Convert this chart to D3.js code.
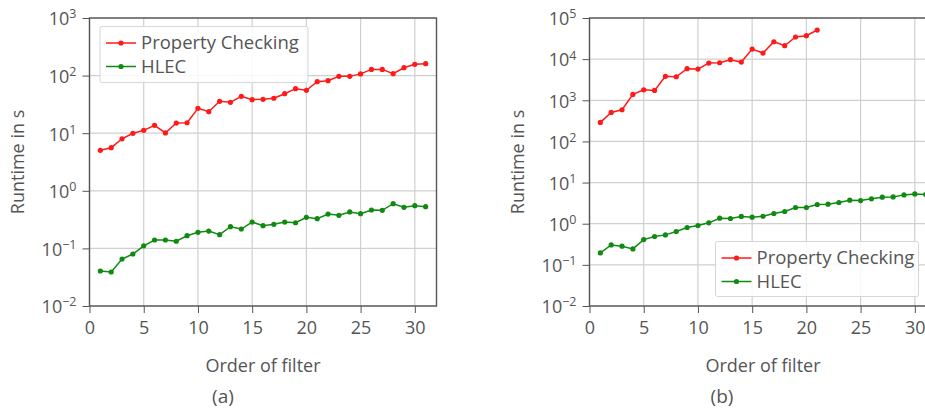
<!DOCTYPE html>
<html>
<head>
<meta charset="utf-8">
<script src="https://cdn.jsdelivr.net/npm/d3@7"></script>
<style>
    html, body { margin: 0; padding: 0; background: #fff; overflow: hidden; }
    text { font-family: "Open Sans", "DejaVu Sans", sans-serif; fill: #555; }
    .grid line { stroke: #cfcfcf; stroke-width: 1.2; }
    .axis path, .axis line { stroke: #555; }
    .axis text { font-size: 18px; fill: #555; }
</style>
</head>
<body>
<div id="vis"></div>
<script>
// Order of filter values
var ordersAll = [1, 2, 3, 4, 5, 6, 7, 8, 9, 10, 11, 12, 13, 14, 15, 16, 17, 18, 19, 20, 21, 22, 23, 24, 25, 26, 27, 28, 29, 30, 31];
var ordersB = [1, 2, 3, 4, 5, 6, 7, 8, 9, 10, 11, 12, 13, 14, 15, 16, 17, 18, 19, 20, 21];

// (a) runtimes in s
var propA = [5.05, 5.6, 8.0, 9.95, 11.2, 13.7, 10.1, 15.0, 15.2, 27, 23.6, 35.8, 34.4, 43.7, 38.2, 38.8, 40.4, 48.5, 59.3, 55.6, 78.3, 81.5, 97, 97, 107, 128, 128, 108, 137, 157, 161];
var hlecA = [0.0405, 0.0389, 0.0655, 0.080, 0.111, 0.14, 0.14, 0.133, 0.166, 0.19, 0.20, 0.173, 0.238, 0.217, 0.287, 0.248, 0.262, 0.287, 0.279, 0.347, 0.328, 0.395, 0.375, 0.429, 0.40, 0.464, 0.458, 0.597, 0.517, 0.551, 0.53];

// (b) runtimes in s
var propB = [290, 507, 588, 1390, 1800, 1740, 3820, 3730, 5850, 5740, 8030, 8180, 9680, 8500, 17600, 14070, 26500, 21200, 34500, 37100, 51000];
var hlecB = [0.195, 0.305, 0.284, 0.244, 0.412, 0.489, 0.535, 0.646, 0.81, 0.904, 1.05, 1.36, 1.34, 1.5, 1.44, 1.52, 1.77, 1.98, 2.48, 2.48, 2.93, 2.98, 3.28, 3.73, 3.66, 4.02, 4.42, 4.49, 5.02, 5.31, 5.13];

// Tick values
var xTicks = [0, 5, 10, 15, 20, 25, 30];
var expA = [-2, -1, 0, 1, 2, 3];
var expB = [-2, -1, 0, 1, 2, 3, 4, 5];

var seriesNames = ['Property Checking', 'HLEC'];
var colors = ['#ff1a1a', '#118a11'];

var width = 925;
var height = 408;

var svg = d3.select('#vis')
    .append('svg')
    .attr('width', width)
    .attr('height', height);

var zip = function(xs, ys) {
    return ys.map(function(v, i) { return {x: xs[i], y: v}; });
};

var panels = [
    {
        left: 89.5, top: 18, w: 347, h: 288,
        exps: expA, caption: '(a)', captionX: 223,
        series: [zip(ordersAll, propA), zip(ordersAll, hlecA)],
        legend: {x: 100, y: 26.5, w: 208, h: 56}
    },
    {
        left: 589.5, top: 18, w: 347, h: 288,
        exps: expB, caption: '(b)', captionX: 722,
        series: [zip(ordersB, propB), zip(ordersAll, hlecB)],
        legend: {x: 715.5, y: 241.5, w: 203, h: 55}
    }
];

var supMinus = function(e) {
    return (e < 0 ? '\u2212' : '') + Math.abs(e);
};

panels.forEach(function(p) {
    var g = svg.append('g')
        .attr('transform', 'translate(' + p.left + ',' + p.top + ')');

    var xScale = d3.scaleLinear().domain([0, 32]).range([0, p.w]);
    var yScale = d3.scaleLog()
        .domain([Math.pow(10, p.exps[0]), Math.pow(10, p.exps[p.exps.length - 1])])
        .range([p.h, 0]);
    var yTickVals = p.exps.map(function(e) { return Math.pow(10, e); });

    // grid
    var grid = g.append('g').attr('class', 'grid');
    grid.selectAll('.gx').data(xTicks).enter().append('line')
        .attr('x1', function(d) { return xScale(d); })
        .attr('x2', function(d) { return xScale(d); })
        .attr('y1', 0).attr('y2', p.h);
    grid.selectAll('.gy').data(yTickVals).enter().append('line')
        .attr('x1', 0).attr('x2', p.w)
        .attr('y1', function(d) { return yScale(d); })
        .attr('y2', function(d) { return yScale(d); });

    // frame
    g.append('rect')
        .attr('width', p.w).attr('height', p.h)
        .attr('fill', 'none')
        .attr('stroke', '#555')
        .attr('stroke-width', 1.4);

    // axes
    var xAxis = d3.axisBottom(xScale).tickValues(xTicks).tickSize(7).tickPadding(8);
    g.append('g')
        .attr('class', 'axis')
        .attr('transform', 'translate(0,' + p.h + ')')
        .call(xAxis)
        .call(function(a) { a.select('.domain').remove(); });

    var yAxis = d3.axisLeft(yScale).tickValues(yTickVals).tickSize(7).tickPadding(6)
        .tickFormat(function() { return ''; });
    var yG = g.append('g')
        .attr('class', 'axis')
        .call(yAxis)
        .call(function(a) { a.select('.domain').remove(); });
    yG.selectAll('.tick text')
        .attr('dy', '0.38em')
        .each(function(d, i) {
            var t = d3.select(this);
            t.append('tspan').text('10');
            t.append('tspan')
                .attr('dy', '-0.55em')
                .style('font-size', '12.5px')
                .text(supMinus(p.exps[i]));
        });

    // axis titles
    svg.append('text')
        .attr('transform', 'translate(' + (p.left - 66) + ',' + (p.top + p.h / 2) + ') rotate(-90)')
        .attr('text-anchor', 'middle')
        .style('font-size', '18px')
        .text('Runtime in s');
    svg.append('text')
        .attr('x', p.left + p.w / 2)
        .attr('y', 372)
        .attr('text-anchor', 'middle')
        .style('font-size', '18px')
        .text('Order of filter');
    svg.append('text')
        .attr('x', p.captionX)
        .attr('y', 403)
        .attr('text-anchor', 'middle')
        .style('font-size', '19px')
        .text(p.caption);

    // lines and markers
    var line = d3.line()
        .x(function(d) { return xScale(d.x); })
        .y(function(d) { return yScale(d.y); });

    p.series.forEach(function(data, si) {
        g.append('path')
            .datum(data)
            .attr('d', line)
            .attr('fill', 'none')
            .attr('stroke', colors[si])
            .attr('stroke-width', 1.5);
        g.selectAll('.m' + si).data(data).enter().append('circle')
            .attr('cx', function(d) { return xScale(d.x); })
            .attr('cy', function(d) { return yScale(d.y); })
            .attr('r', 2.6)
            .attr('fill', colors[si]);
    });

    // legend
    var lg = svg.append('g')
        .attr('transform', 'translate(' + p.legend.x + ',' + p.legend.y + ')');
    lg.append('rect')
        .attr('width', p.legend.w).attr('height', p.legend.h)
        .attr('rx', 2)
        .attr('fill', 'rgba(255,255,255,0.85)')
        .attr('stroke', '#d6d6d6');
    seriesNames.forEach(function(name, i) {
        var yy = 16.5 + i * 23.5;
        lg.append('line')
            .attr('x1', 6).attr('x2', 36)
            .attr('y1', yy).attr('y2', yy)
            .attr('stroke', colors[i])
            .attr('stroke-width', 1.5);
        lg.append('circle')
            .attr('cx', 21).attr('cy', yy).attr('r', 2.6)
            .attr('fill', colors[i]);
        lg.append('text')
            .attr('x', 41).attr('y', yy)
            .attr('dy', '0.35em')
            .style('font-size', '18.5px')
            .text(name);
    });
});
</script>
</body>
</html>
